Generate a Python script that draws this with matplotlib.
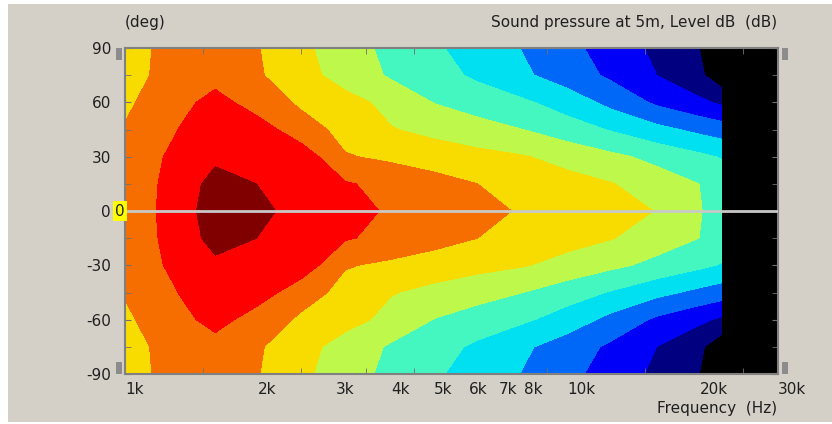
import matplotlib
matplotlib.use("Agg")
import matplotlib.pyplot as plt
import numpy as np
from matplotlib.colors import ListedColormap, BoundaryNorm
from matplotlib.patches import Rectangle
from matplotlib.ticker import FixedLocator, NullFormatter

plt.rcParams["axes.unicode_minus"] = False

freqs_hz = [1000, 1250, 1600, 2000, 2500, 3150, 4000, 5000, 6300, 8000,
            10000, 12500, 16000, 20000, 22300]
angles_half = [0, 15, 30, 45, 60, 75, 90]

# sound pressure level (dB) per angle row
spl_0deg = [82.8, 84.5, 88.85, 87.5, 86.2, 84.9, 83.64, 82.7, 81.7, 80.7, 79.8, 78.9, 77.9, 75.1, 74.0]
spl_15deg = [82.8, 84.4, 88.2, 86.95, 85.6, 84.25, 83.1, 82.04, 80.98, 80.0, 79.07, 78.15, 76.55, 74.95, 73.8]
spl_30deg = [82.5, 84.2, 86.3, 86.6, 85.7, 81.2, 80.4, 79.65, 78.9, 78.15, 76.97, 75.67, 74.1, 72.6, 71.8]
spl_45deg = [81.2, 83.5, 86.1, 85.3, 82.3, 80.0, 78.16, 77.1, 76.05, 74.96, 73.4, 71.8, 69.8, 68.2, 67.5]
spl_60deg = [80.5, 82.7, 85.0, 82.6, 80.5, 79.0, 77.05, 74.9, 73.7, 72.4, 70.6, 68.15, 65.4, 63.6, 62.5]
spl_75deg = [79.8, 82.0, 82.9, 81.3, 79.0, 76.75, 74.6, 73.1, 71.4, 69.4, 67.5, 65.5, 62.95, 60.5, 58.0]
spl_90deg = [79.5, 82.0, 82.8, 81.1, 78.6, 76.3, 74.1, 72.4, 70.6, 68.8, 66.8, 64.65, 62.3, 59.9, 58.0]

levels_db = [0, 60, 63, 66, 69, 72, 75, 78, 81, 84, 87, 120]
band_colors = ["#000000", "#000080", "#0000f8", "#0068f8", "#00e0f0", "#44f6c0",
               "#bef84a", "#f8dc00", "#f76e00", "#ff0000", "#800000"]

label_freqs = [1000, 2000, 3000, 4000, 5000, 6000, 7000, 8000, 10000, 20000, 30000]
label_texts = ["1k", "2k", "3k", "4k", "5k", "6k", "7k", "8k", "10k", "20k", "30k"]
mark_freqs = [1500, 2000, 2500, 3000, 3500, 4000, 4500, 5000, 6000, 7000, 8000,
              9000, 10000, 15000, 20000, 25000]

half = np.array([spl_0deg, spl_15deg, spl_30deg, spl_45deg, spl_60deg, spl_75deg, spl_90deg])
angles = np.concatenate([-np.array(angles_half[::-1]), angles_half[1:]])
spl = np.vstack([half[::-1], half[1:]])

W, H = 832, 424
FS = 11
fig = plt.figure(figsize=(W / 100, H / 100), dpi=100, facecolor="white")
fig.patches.append(Rectangle((8 / W, 2 / H), 1, 1 - 6 / H, transform=fig.transFigure,
                             facecolor="#d4d0c8", edgecolor="none", zorder=-5))

ax = fig.add_axes([125 / W, 50 / H, 653 / W, 326 / H])
ax.set_facecolor("black")
cmap = ListedColormap(band_colors)
norm = BoundaryNorm(levels_db, cmap.N)
ax.contourf(freqs_hz, angles, spl, levels=levels_db, cmap=cmap, norm=norm)
ax.axhline(0, color="#c8c8c8", lw=2, zorder=3)

ax.set_xscale("log")
ax.set_xlim(1000, 30000)
ax.set_ylim(-90, 90)

txt = "#202020"
ax.xaxis.set_major_locator(FixedLocator(label_freqs))
ax.set_xticklabels(label_texts)
ax.xaxis.set_minor_locator(FixedLocator(mark_freqs))
ax.xaxis.set_minor_formatter(NullFormatter())
for lab in ax.get_xticklabels():
    lab.set_ha("left")
ax.tick_params(axis="x", which="major", length=0, pad=6, labelsize=FS, colors=txt)
ax.tick_params(axis="x", which="minor", direction="in", length=4, top=True,
               bottom=True, color="#707070")

ax.set_yticks([-90, -60, -30, 0, 30, 60, 90])
ax.yaxis.set_minor_locator(FixedLocator(np.arange(-75, 90, 30)))
ax.tick_params(axis="y", which="both", direction="in", length=4, left=True,
               right=True, color="#707070", labelsize=FS, labelcolor=txt, pad=10)

for s in ax.spines.values():
    s.set_color("#808080")
    s.set_linewidth(1.5)

fig.text(125 / W, 1 - 22 / H, "(deg)", ha="left", va="center", fontsize=FS, color=txt)
fig.text(777 / W, 1 - 22 / H, "Sound pressure at 5m, Level dB  (dB)", ha="right",
         va="center", fontsize=FS, color=txt)
fig.text(777 / W, 1 - 408 / H, "Frequency  (Hz)", ha="right", va="center",
         fontsize=FS, color=txt)
fig.text(115 / W, 1 - 211 / H, "0", ha="left", va="center", fontsize=FS, color=txt,
         zorder=10, bbox=dict(facecolor="#ffff00", edgecolor="none", pad=1.5))

# slider handles at the corners of the plot
for x0 in (116, 782):
    for y0 in (48, 362):
        fig.patches.append(Rectangle((x0 / W, 1 - (y0 + 12) / H), 6 / W, 12 / H,
                                     transform=fig.transFigure, facecolor="#8c8c8c",
                                     edgecolor="none"))

fig.savefig("out.png", dpi=100, facecolor=fig.get_facecolor())
